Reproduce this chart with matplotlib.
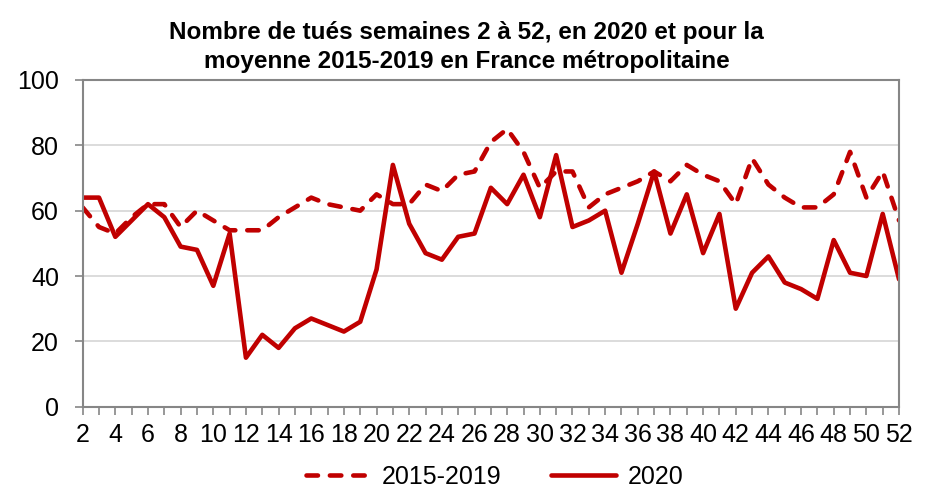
import matplotlib
matplotlib.use("Agg")
import matplotlib.pyplot as plt
import numpy as np
from matplotlib.ticker import MultipleLocator

plt.rcParams['font.family'] = ['Liberation Sans', 'DejaVu Sans']

# semaines 2 a 52
semaines = list(range(2, 53))

moyenne_2015_2019 = [61, 55, 53, 58, 62, 62, 55, 60, 57, 54,
                     54, 54, 58, 61, 64, 62, 61, 60, 65, 62,
                     62, 68, 66, 71, 72, 81, 85, 78, 67, 72,
                     72, 61, 65, 67, 69, 72, 69, 74, 71, 69,
                     62, 76, 68, 64, 61, 61, 65, 78, 64, 72,
                     57]

tues_2020 = [64, 64, 52, 57, 62, 58, 49, 48, 37, 53,
             15, 22, 18, 24, 27, 25, 23, 26, 42, 74,
             56, 47, 45, 52, 53, 67, 62, 71, 58, 77,
             55, 57, 60, 41, 56, 72, 53, 65, 47, 59,
             30, 41, 46, 38, 36, 33, 51, 41, 40, 59,
             39]

titre = "Nombre de tués semaines 2 à 52, en 2020 et pour la\nmoyenne 2015-2019 en France métropolitaine"

rouge = '#C00000'
gris = '#868686'

fig = plt.figure(figsize=(9.33, 4.95), dpi=100)
ax = fig.add_axes([0.0886, 0.1784, 0.875, 0.66])

ax.plot(semaines, moyenne_2015_2019, color=rouge, lw=3.3, linestyle=(0, (2.5, 2.6)),
        dash_capstyle='round', solid_joinstyle='round', label='2015-2019')
ax.plot(semaines, tues_2020, color=rouge, lw=3.3, solid_capstyle='round',
        solid_joinstyle='round', label='2020')

ax.set_xlim(2, 52)
ax.set_ylim(0, 100)
ax.set_yticks([0, 20, 40, 60, 80, 100])
ax.set_xticks(range(2, 53, 2))
ax.xaxis.set_minor_locator(MultipleLocator(1))
ax.yaxis.grid(True, color='#d9d9d9', lw=1.3)
ax.set_axisbelow(True)

for s in ax.spines.values():
    s.set_color(gris)
    s.set_linewidth(1.5)

ax.tick_params(axis='both', labelsize=18, color=gris, width=1.2, length=6)
ax.tick_params(axis='x', which='minor', color=gris, width=1.2, length=6)
ax.tick_params(axis='x', pad=6)
ax.tick_params(axis='y', pad=11)

fig.text(0.5, (495 - 68) / 495, titre, ha='center', va='baseline', fontsize=17.5,
         fontweight='bold', linespacing=1.35)

fig.legend(loc='center', bbox_to_anchor=(0.53, 0.036), ncol=2, frameon=False,
           fontsize=18, handlelength=2.6, handletextpad=0.45, columnspacing=2.0)

fig.savefig('out.png', dpi=100)
